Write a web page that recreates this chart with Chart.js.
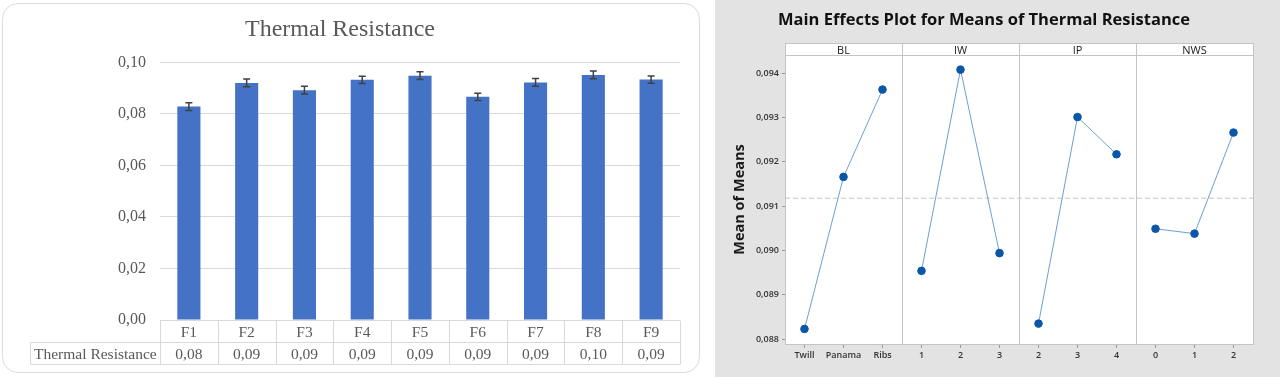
<!DOCTYPE html>
<html>
<head>
<meta charset="utf-8">
<script src="https://cdn.jsdelivr.net/npm/chart.js@4"></script>
<style>
  body { margin: 0; background: #fff; width: 1280px; height: 377px; overflow: hidden; position: relative; }
  #card { position: absolute; left: 2px; top: 3px; width: 698px; height: 370px; box-sizing: border-box; border: 1.5px solid #dcdcdc; border-radius: 16px; }
  #leftWrap { position: absolute; left: 0; top: 0; width: 703px; height: 377px; }
  #rightWrap { position: absolute; left: 715px; top: 0; width: 565px; height: 377px; background: #e3e3e3; }
</style>
</head>
<body>
<div id="card"></div>
<div id="leftWrap"><canvas id="left"></canvas></div>
<div id="rightWrap"><canvas id="right"></canvas></div>
<script>
// bar chart data
const categories = ["F1", "F2", "F3", "F4", "F5", "F6", "F7", "F8", "F9"];
const resistance = [0.0828, 0.0920, 0.0892, 0.0932, 0.0948, 0.0866, 0.0922, 0.0951, 0.0933];
const errors = [0.0015, 0.0015, 0.0015, 0.0014, 0.0015, 0.0014, 0.0015, 0.0015, 0.0014];
const yTicksLeft = [0, 0.02, 0.04, 0.06, 0.08, 0.10];
const seriesName = "Thermal Resistance";

// main effects data
const factors = ["BL", "IW", "IP", "NWS"];
const levels = [["Twill", "Panama", "Ribs"], ["1", "2", "3"], ["2", "3", "4"], ["0", "1", "2"]];
const means = [
  [0.08823, 0.09166, 0.09363],
  [0.08954, 0.09408, 0.08994],
  [0.08835, 0.09301, 0.09217],
  [0.09049, 0.09038, 0.09266]
];
const grandMean = 0.09118;
const yTicksRight = [0.088, 0.089, 0.090, 0.091, 0.092, 0.093, 0.094];

const serif = "'Liberation Serif', 'Times New Roman', serif";
const sans = "'Open Sans', 'Noto Sans', sans-serif";
const comma = (v, d) => v.toFixed(d).replace(".", ",");

const errorBars = {
  id: "errorBars",
  afterDatasetsDraw(chart) {
    const { ctx, scales: { x, y } } = chart;
    ctx.save();
    ctx.strokeStyle = "#404040";
    ctx.lineWidth = 1.5;
    resistance.forEach((v, i) => {
      const px = x.getPixelForValue(i);
      const top = y.getPixelForValue(v + errors[i]);
      const bot = y.getPixelForValue(v - errors[i]);
      ctx.beginPath();
      ctx.moveTo(px, top); ctx.lineTo(px, bot);
      ctx.moveTo(px - 3.5, top); ctx.lineTo(px + 3.5, top);
      ctx.moveTo(px - 3.5, bot); ctx.lineTo(px + 3.5, bot);
      ctx.stroke();
    });
    ctx.restore();
  }
};

// data table under the bars
const dataTable = {
  id: "dataTable",
  afterDraw(chart) {
    const { ctx, chartArea: a } = chart;
    const n = categories.length;
    const step = (a.right - a.left) / n;
    const r1 = Math.round(a.bottom) + 0.5, r2 = r1 + 22, r3 = r1 + 44;
    const tableLeft = 30.5;
    ctx.save();
    ctx.strokeStyle = "#d9d9d9";
    ctx.lineWidth = 1;
    ctx.beginPath();
    ctx.moveTo(a.left, r1); ctx.lineTo(a.right, r1);
    ctx.moveTo(tableLeft, r2); ctx.lineTo(a.right, r2);
    ctx.moveTo(tableLeft, r3); ctx.lineTo(a.right, r3);
    ctx.moveTo(tableLeft, r2); ctx.lineTo(tableLeft, r3);
    for (let i = 0; i <= n; i++) {
      const xx = Math.round(a.left + i * step) + 0.5;
      ctx.moveTo(xx, r1); ctx.lineTo(xx, r3);
    }
    ctx.stroke();
    ctx.fillStyle = "#595959";
    ctx.font = "15.5px " + serif;
    ctx.textBaseline = "middle";
    ctx.textAlign = "center";
    categories.forEach((c, i) => {
      const cx = a.left + (i + 0.5) * step;
      ctx.fillText(c, cx, (r1 + r2) / 2 + 1);
      ctx.fillText(comma(resistance[i], 2), cx, (r2 + r3) / 2 + 1);
    });
    ctx.textAlign = "left";
    ctx.fillText(seriesName, 34, (r2 + r3) / 2 + 1);
    ctx.restore();
  }
};

new Chart(document.getElementById("left"), {
  type: "bar",
  data: {
    labels: categories,
    datasets: [{
      label: seriesName,
      data: resistance,
      backgroundColor: "#4472c4",
      categoryPercentage: 1,
      barPercentage: 0.4
    }]
  },
  options: {
    responsive: true,
    maintainAspectRatio: false,
    animation: false,
    layout: { padding: { left: 0, right: 23, top: 0, bottom: 57 } },
    plugins: {
      legend: { display: false },
      tooltip: { enabled: false },
      title: {
        display: true,
        text: "Thermal Resistance",
        color: "#595959",
        font: { family: serif, size: 24, weight: "normal" },
        padding: { top: 15.5, bottom: 18 }
      }
    },
    scales: {
      x: { display: false },
      y: {
        min: 0,
        max: 0.1,
        afterBuildTicks: s => { s.ticks = yTicksLeft.map(v => ({ value: v })); },
        afterFit: s => { s.width = 160; },
        border: { display: false },
        grid: { color: "#d9d9d9", drawTicks: false },
        ticks: {
          padding: 14,
          color: "#595959",
          font: { family: serif, size: 16 },
          callback: v => comma(v, 2)
        }
      }
    }
  },
  plugins: [errorBars, dataTable]
});

// panels with header strip for the main effects plot
const headerH = 12;
const panels = {
  id: "panels",
  beforeDraw(chart) {
    const { ctx, chartArea: a } = chart;
    ctx.save();
    ctx.fillStyle = "#fff";
    ctx.fillRect(a.left, a.top - headerH, a.right - a.left, a.bottom - a.top + headerH);
    ctx.restore();
  },
  beforeDatasetsDraw(chart) {
    const { ctx, chartArea: a, scales: { x } } = chart;
    const L = Math.round(a.left) + 0.5, R = Math.round(a.right) + 0.5;
    const T = Math.round(a.top - headerH) + 0.5, H = Math.round(a.top) + 0.5, B = Math.round(a.bottom) + 0.5;
    ctx.save();
    ctx.strokeStyle = "#c4c4c4";
    ctx.lineWidth = 1;
    ctx.strokeRect(L, T, R - L, B - T);
    ctx.beginPath();
    ctx.moveTo(L, H); ctx.lineTo(R, H);
    let start = 0;
    const centers = [];
    levels.forEach((lv, fi) => {
      const xl = x.getPixelForValue(start), xr = x.getPixelForValue(start + lv.length);
      if (fi > 0) {
        const xx = Math.round(xl) + 0.5;
        ctx.moveTo(xx, T); ctx.lineTo(xx, B);
      }
      centers.push((xl + xr) / 2);
      start += lv.length;
    });
    ctx.stroke();
    ctx.fillStyle = "#1a1a1a";
    ctx.font = "11px " + sans;
    ctx.textAlign = "center";
    ctx.textBaseline = "middle";
    factors.forEach((f, fi) => ctx.fillText(f, centers[fi], a.top - headerH / 2 + 2));
    ctx.restore();
  }
};

const levelLabels = levels.flat();
const effectSets = [];
let offset = 0;
levels.forEach((lv, fi) => {
  const base = offset;
  effectSets.push({
    label: factors[fi],
    data: means[fi].map((m, li) => ({ x: base + li + 0.5, y: m })),
    borderColor: "#6b9fd6",
    borderWidth: 1,
    pointBackgroundColor: "#0a56a8",
    pointBorderColor: "#0a56a8",
    pointRadius: 3.8,
    tension: 0
  });
  offset += lv.length;
});
effectSets.push({
  label: "Mean",
  data: [{ x: 0, y: grandMean }, { x: levelLabels.length, y: grandMean }],
  borderColor: "#c4c4c4",
  borderWidth: 1,
  borderDash: [5, 3],
  pointRadius: 0
});

new Chart(document.getElementById("right"), {
  type: "line",
  data: { datasets: effectSets },
  options: {
    responsive: true,
    maintainAspectRatio: false,
    animation: false,
    layout: { padding: { left: 0, right: 27, top: 0, bottom: 0 } },
    plugins: {
      legend: { display: false },
      tooltip: { enabled: false },
      title: {
        display: true,
        text: "Main Effects Plot for Means of Thermal Resistance",
        color: "#111",
        font: { family: sans, size: 16.5, weight: "bold" },
        padding: { top: 10, bottom: 25.2 }
      }
    },
    scales: {
      x: {
        type: "linear",
        min: 0,
        max: levelLabels.length,
        afterBuildTicks: s => { s.ticks = levelLabels.map((l, k) => ({ value: k + 0.5 })); },
        afterFit: s => { s.height = 33; },
        border: { display: false },
        grid: { drawOnChartArea: false, tickLength: 4, color: "#999" },
        ticks: {
          padding: 2,
          autoSkip: false,
          maxRotation: 0,
          color: "#333",
          font: { family: sans, size: 9, weight: "600" },
          callback: (v, i) => levelLabels[i]
        }
      },
      y: {
        min: 0.08789,
        max: 0.09441,
        afterBuildTicks: s => { s.ticks = yTicksRight.map(v => ({ value: v })); },
        afterFit: s => { s.width = 70; },
        border: { display: false },
        grid: { drawOnChartArea: false, tickLength: 3, color: "#999" },
        ticks: {
          padding: 3,
          color: "#333",
          font: { family: sans, size: 9, weight: "600" },
          callback: v => comma(v, 3)
        },
        title: {
          display: true,
          text: "Mean of Means",
          color: "#1a1a1a",
          font: { family: sans, size: 14.5, weight: "bold" },
          padding: { top: 16, bottom: 0 }
        }
      }
    }
  },
  plugins: [panels]
});
</script>
</body>
</html>
